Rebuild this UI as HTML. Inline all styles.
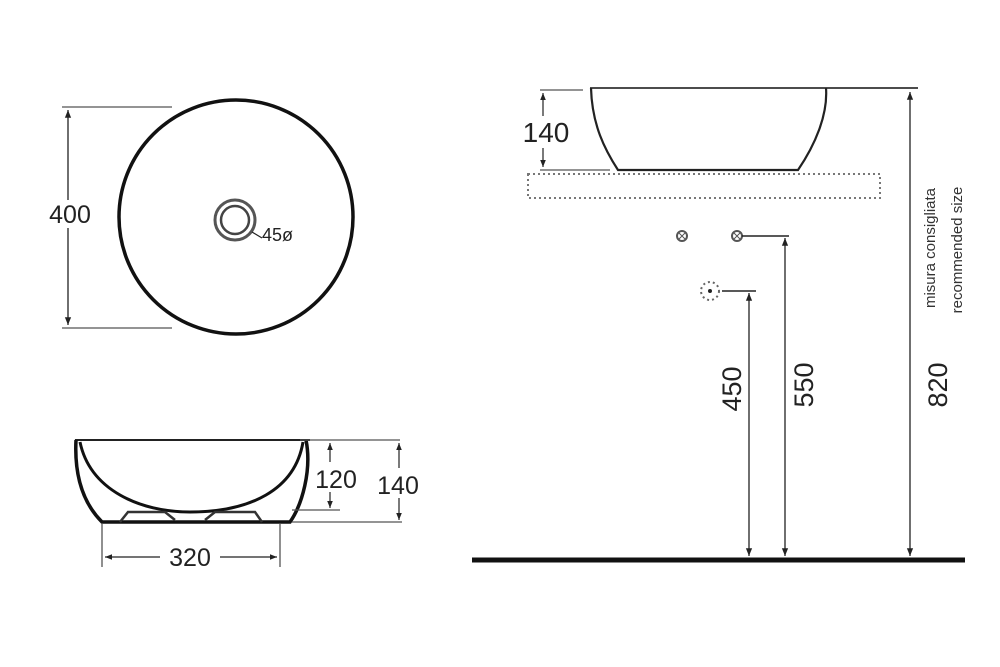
<!DOCTYPE html>
<html><head><style>html,body{margin:0;padding:0;background:#fff}svg{display:block}</style></head>
<body>
<svg width="1000" height="667" viewBox="0 0 1000 667" xmlns="http://www.w3.org/2000/svg" font-family="Liberation Sans, Arial, sans-serif" fill="none" stroke="#222">
<defs>
<marker id="a" viewBox="0 0 10 10" refX="10" refY="5" markerWidth="6" markerHeight="6" orient="auto-start-reverse"><path d="M0,1 L10,5 L0,9 z" fill="#222" stroke="none"/></marker>
</defs>
<!-- top view -->
<circle cx="236" cy="217" r="117" stroke-width="3.5" stroke="#111"/>
<circle cx="235" cy="220" r="20" stroke-width="3" stroke="#555"/>
<circle cx="235" cy="220" r="14" stroke-width="2.5" stroke="#444"/>
<path d="M252,232 L262,238" stroke-width="1.2"/>
<text x="262" y="241" font-size="18" fill="#222" stroke="none">45ø</text>
<path d="M62,107 H172 M62,328 H172" stroke-width="1.3" stroke="#555"/>
<path d="M68,110 V325" stroke-width="1.3" marker-start="url(#a)" marker-end="url(#a)"/>
<rect x="44" y="200" width="50" height="28" fill="#fff" stroke="none"/>
<text x="70" y="223" font-size="25" fill="#222" stroke="none" text-anchor="middle">400</text>
<!-- side view -->
<path d="M75,440 H310" stroke-width="2"/>
<path d="M76,440 C74,480 85,505 102,522 H290 C302,505 312,470 306,440" stroke-width="3.5" stroke="#111"/>
<path d="M80,442 C90,490 140,512 190,512 C250,512 295,490 303,442" stroke-width="3" stroke="#111"/>
<path d="M120,522 L128,512 H165 L175,520 M205,520 L215,512 H255 L262,522" stroke-width="2.5" stroke="#333"/>
<path d="M300,440 H400 M292,510 H340 M292,522 H402" stroke-width="1.3" stroke="#555"/>
<path d="M330,443 V508" stroke-width="1.2" marker-start="url(#a)" marker-end="url(#a)"/>
<path d="M399,443 V520" stroke-width="1.2" marker-start="url(#a)" marker-end="url(#a)"/>
<rect x="312" y="462" width="50" height="30" fill="#fff" stroke="none"/>
<rect x="373" y="468" width="52" height="30" fill="#fff" stroke="none"/>
<text x="336" y="488" font-size="25" fill="#222" stroke="none" text-anchor="middle">120</text>
<text x="398" y="494" font-size="25" fill="#222" stroke="none" text-anchor="middle">140</text>
<path d="M102,524 V567 M280,524 V567" stroke-width="1.3" stroke="#555"/>
<path d="M105,557 H277" stroke-width="1.2" marker-start="url(#a)" marker-end="url(#a)"/>
<rect x="160" y="543" width="60" height="28" fill="#fff" stroke="none"/>
<text x="190" y="566" font-size="25" fill="#222" stroke="none" text-anchor="middle">320</text>
<!-- right side view -->
<path d="M590,88 H918" stroke-width="1.8" stroke="#333"/>
<path d="M591,88 C592,125 605,150 618,170 H798 C815,145 828,115 826,88" stroke-width="2.2" stroke="#222"/>
<path d="M540,90 H583 M540,170 H610" stroke-width="1.3" stroke="#555"/>
<path d="M543,93 V167" stroke-width="1.2" marker-start="url(#a)" marker-end="url(#a)"/>
<rect x="515" y="116" width="64" height="32" fill="#fff" stroke="none"/>
<text x="546" y="142" font-size="28" fill="#222" stroke="none" text-anchor="middle">140</text>
<rect x="528" y="174" width="352" height="24" stroke-width="2" stroke="#777" stroke-dasharray="2,3"/>
<circle cx="682" cy="236" r="5" stroke-width="2" stroke="#555"/>
<path d="M679,233 l6,6 M685,233 l-6,6" stroke-width="1" stroke="#555"/>
<circle cx="737" cy="236" r="5" stroke-width="2" stroke="#555"/>
<path d="M734,233 l6,6 M740,233 l-6,6" stroke-width="1" stroke="#555"/>
<path d="M742,236 H789" stroke-width="1.5"/>
<path d="M785,238 V556" stroke-width="1.3" marker-start="url(#a)" marker-end="url(#a)"/>
<circle cx="710" cy="291" r="9" stroke-width="2" stroke="#666" stroke-dasharray="2,3"/>
<circle cx="710" cy="291" r="1.5" fill="#222"/>
<path d="M722,291 H756" stroke-width="1.5"/>
<path d="M749,293 V556" stroke-width="1.3" marker-start="url(#a)" marker-end="url(#a)"/>
<path d="M910,92 V556" stroke-width="1.3" marker-start="url(#a)" marker-end="url(#a)"/>
<path d="M472,560 H965" stroke-width="5" stroke="#111"/>
<g fill="#222" stroke="none" font-size="27" text-anchor="middle">
<text transform="translate(741,389) rotate(-90)">450</text>
<text transform="translate(813,385) rotate(-90)">550</text>
<text transform="translate(947,385) rotate(-90)">820</text>
</g>
<g fill="#333" stroke="none" font-size="15" text-anchor="middle">
<text transform="translate(935,248) rotate(-90)">misura consigliata</text>
<text transform="translate(962,250) rotate(-90)">recommended size</text>
</g>
</svg>
</body></html>
